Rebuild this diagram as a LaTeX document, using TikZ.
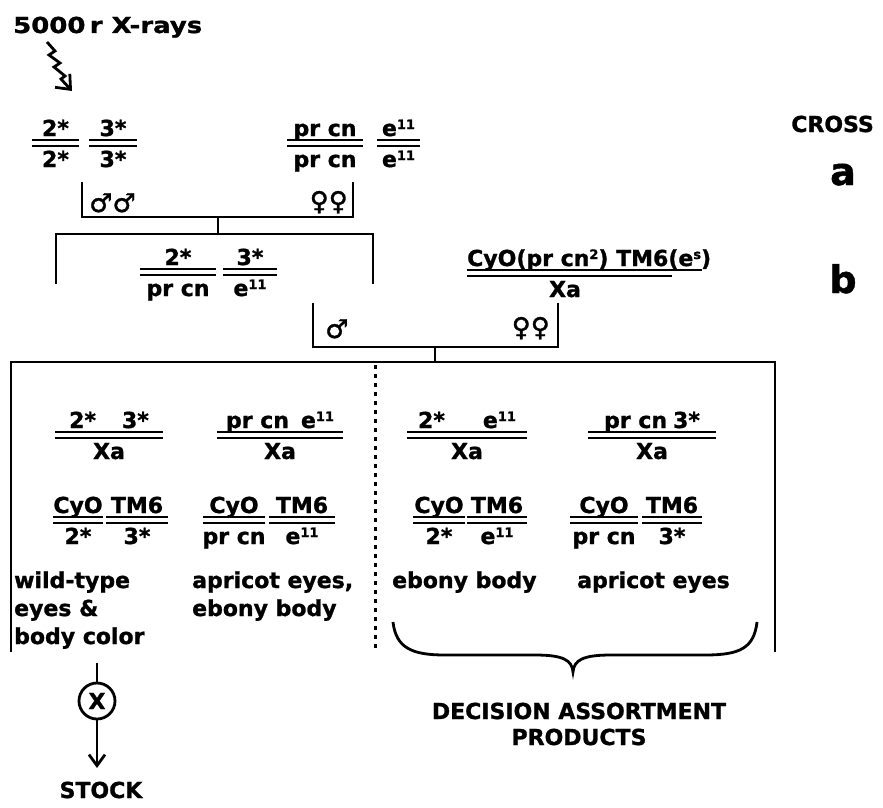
\documentclass[tikz,border=0pt]{standalone}
\usepackage{fontspec}
\usepackage{graphicx}
\setmainfont{DejaVu Sans}[BoldFeatures={FakeBold=1.2}]
\usetikzlibrary{arrows.meta}
\newcommand\fsz[1]{\fontsize{#1}{#1}\selectfont\bfseries}
\newcommand\sups[1]{\raisebox{7pt}{\fontsize{13}{13}\selectfont\bfseries #1}}
% #1 name, #2 centre x, #3 upper bar y, #4 half width, #5 numerator, #6 denominator
\newcommand\chrom[6]{%
  \node[gt, anchor=base] (#1-n) at (#2,#3-4) {#5};
  \node[gt, anchor=base] (#1-d) at (#2,#3+27) {#6};
  \draw[bar] (#2-#4,#3) -- (#2+#4,#3);
  \draw[bar] (#2-#4,#3+6) -- (#2+#4,#3+6);
}
\begin{document}
\begin{tikzpicture}[x=1pt,y=-1pt,
  gt/.style={inner sep=0pt, font=\fsz{22}},
  sex/.style={inner sep=0pt, font=\fsz{26}},
  lbl/.style={inner sep=0pt, font=\fsz{22}, anchor=base west},
  captxt/.style={inner sep=0pt, font=\fsz{22}, anchor=base},
  bigtxt/.style={inner sep=0pt, font=\fsz{38}, anchor=base},
  bar/.style={line width=2.2pt},
  ln/.style={line width=2.8pt},
]
\useasboundingbox (0,0) rectangle (883,808);

% title and irradiation arrow
\node[lbl] (xr) at (13,33) {\scalebox{1.18}[1]{5000\,r X-rays}};
\coordinate (w0) at (47,42);
\coordinate (w1) at (72,91);
\draw[ln, line join=miter, -{Straight Barb[length=12pt,width=20pt,line width=2.8pt]}]
  (w0) -- (55,51) -- (49,55) -- (60,63) -- (54,67) -- (65,76) -- (61,79) -- (w1);

% right-hand labels
\node[captxt, anchor=base east] (crosslbl) at (874,132) {CROSS};
\node[bigtxt] (la) at (843,185) {a};
\node[bigtxt] (lb) at (843,293) {b};

% parents of cross a
\chrom{a1}{55.5}{140}{23.5}{2*}{2*}
\chrom{a2}{113}{140}{24}{3*}{3*}
\chrom{b1}{325}{140}{38}{pr cn}{pr cn}
\chrom{b2}{398.5}{140}{21.5}{e\sups{11}}{e\sups{11}}

% bracket of cross a
\coordinate (k1a) at (82,182);
\coordinate (k1b) at (82,217);
\coordinate (k1c) at (353,217);
\coordinate (k1d) at (353,182);
\draw[ln] (k1a) -- (k1b) -- (k1c) -- (k1d);
\node[sex, anchor=base west] (m1) at (89,212) {♂♂};
\node[sex, anchor=base east] (f1) at (348,210) {♀♀};
\coordinate (k1m) at (218,217);
\coordinate (k2m) at (218,234);
\draw[ln] (k1m) -- (k2m);

% F1 bracket
\coordinate (k2a) at (56,284);
\coordinate (k2b) at (56,234);
\coordinate (k2c) at (373,234);
\coordinate (k2d) at (373,284);
\draw[ln] (k2a) -- (k2b) -- (k2c) -- (k2d);

% parents of cross b
\chrom{c1}{178}{269}{38}{2*}{pr cn}
\chrom{c2}{250}{269}{27}{3*}{e\sups{11}}
\node[gt, anchor=base west] (dn) at (467,266) {CyO(pr cn\sups{2}) TM6(e\sups{s})};
\coordinate (d0) at (467,270);
\coordinate (d1) at (702,270);
\coordinate (d2) at (467,276);
\coordinate (d3) at (672,276);
\draw[bar] (d0) -- (d1);
\draw[bar] (d2) -- (d3);
\node[gt, anchor=base] (dd) at (565,297) {Xa};

% bracket of cross b
\coordinate (k3a) at (313,303);
\coordinate (k3b) at (313,347);
\coordinate (k3c) at (558,347);
\coordinate (k3d) at (558,303);
\draw[ln] (k3a) -- (k3b) -- (k3c) -- (k3d);
\node[sex, anchor=base west] (m2) at (325,338) {♂};
\node[sex, anchor=base east] (f2) at (550,336) {♀♀};
\coordinate (k3m) at (435,347);
\coordinate (k4m) at (435,362);
\draw[ln] (k3m) -- (k4m);

% progeny box
\coordinate (bx0) at (11,652);
\coordinate (bx1) at (11,362);
\coordinate (bx2) at (775,362);
\coordinate (bx3) at (775,652);
\draw[ln] (bx0) -- (bx1) -- (bx2) -- (bx3);
\coordinate (dt0) at (375,365);
\coordinate (dt1) at (375,652);
\draw[line width=3pt, dash pattern=on 4pt off 5pt] (dt0) -- (dt1);

% row 1
\chrom{r1a}{109}{432}{54}{2*\hspace{26pt}3*}{Xa}
\chrom{r1b}{280}{432}{63}{pr cn\hspace{12pt}e\sups{11}}{Xa}
\chrom{r1c}{467}{432}{60}{2*\hspace{38pt}e\sups{11}}{Xa}
\chrom{r1d}{652}{432}{64}{pr cn\hspace{6pt}3*}{Xa}

% row 2
\chrom{r2a}{78}{517}{25}{CyO}{2*}
\chrom{r2b}{137}{517}{31}{TM6}{3*}
\chrom{r2c}{234}{517}{31}{CyO}{pr cn}
\chrom{r2d}{302}{517}{33}{TM6}{e\sups{11}}
\chrom{r2e}{439}{517}{26}{CyO}{2*}
\chrom{r2f}{497}{517}{30}{TM6}{e\sups{11}}
\chrom{r2g}{604}{517}{34}{CyO}{pr cn}
\chrom{r2h}{672}{517}{30}{TM6}{3*}

% row 3 phenotypes
\node[lbl] (p1a) at (14,588) {wild-type};
\node[lbl] (p1b) at (14,616) {eyes \&};
\node[lbl] (p1c) at (14,644) {body color};
\node[lbl] (p2a) at (192,588) {apricot eyes,};
\node[lbl] (p2b) at (192,616) {ebony body};
\node[lbl] (p3) at (392,588) {ebony body};
\node[lbl] (p4) at (577,588) {apricot eyes};

% brace
\coordinate (br0) at (393,622);
\coordinate (brt) at (573,672);
\coordinate (br1) at (757,622);
\draw[ln] (br0) .. controls (396,648) and (412,655) .. (445,655)
  -- (535,655) .. controls (563,655) and (572,660) .. (brt)
  .. controls (574,660) and (583,655) .. (611,655)
  -- (705,655) .. controls (740,655) and (754,648) .. (br1);
\node[captxt] (dec1) at (579,719) {DECISION ASSORTMENT};
\node[captxt] (dec2) at (579,745) {PRODUCTS};

% selfing and stock
\coordinate (s0) at (97,663);
\node[circle, draw, line width=2.8pt, minimum size=36pt, inner sep=0pt, font=\fsz{22}] (self) at (97,701) {X};
\coordinate (s1) at (97,768);
\draw[ln] (s0) -- (self.north);
\draw[ln, -{Straight Barb[length=11pt,width=16pt,line width=2.8pt]}] (self.south) -- (s1);
\node[captxt] (stock) at (101,798) {STOCK};
\end{tikzpicture}
\end{document}
